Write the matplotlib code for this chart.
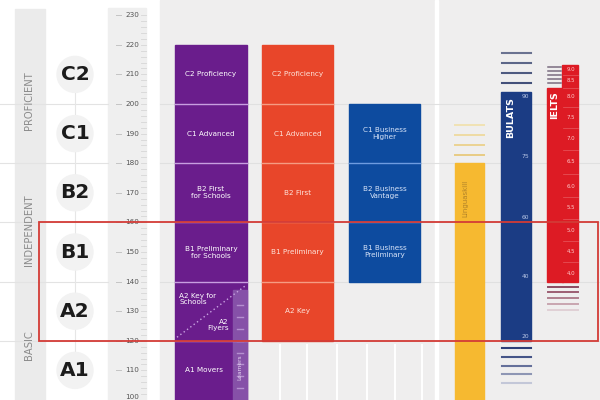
import matplotlib
matplotlib.use("Agg")
import matplotlib.pyplot as plt
from matplotlib.patches import Rectangle, Ellipse

# ---------------- data ----------------
levels = ["C2", "C1", "B2", "B1", "A2", "A1"]
level_centers = [210, 190, 170, 150, 130, 110]
level_bounds = [200, 180, 160, 140, 120]
bands = ["PROFICIENT", "INDEPENDENT", "BASIC"]
band_centers = [201.3, 157.4, 118.6]
scale_ticks = [230, 220, 210, 200, 190, 180, 170, 160, 150, 140, 130, 120, 110, 100]

purple_top = 220
purple_labels = ["C2 Proficiency", "C1 Advanced", "B2 First\nfor Schools",
                 "B1 Preliminary\nfor Schools", "A1 Movers"]
purple_label_pos = [210, 190, 170, 150, 110]
purple_a2_upper = "A2 Key for\nSchools"
purple_a2_lower = "A2\nFlyers"
learners_text = "Learners"

orange_range = (120, 220)
orange_labels = ["C2 Proficiency", "C1 Advanced", "B2 First", "B1 Preliminary", "A2 Key"]
orange_label_pos = [210, 190, 170, 150, 130]

blue_range = (140, 200)
blue_labels = ["C1 Business\nHigher", "B2 Business\nVantage", "B1 Business\nPreliminary"]
blue_label_pos = [190, 170, 150]

linguaskill_range = (100, 180)
linguaskill_lines = [192.9, 189.5, 186.1, 182.8]

bulats_range = (120, 204)
bulats_ticks = ["90", "75", "60", "40", "20"]
bulats_tick_pos = [202.4, 182.1, 161.8, 141.6, 121.3]
bulats_lines_above = [217.2, 213.9, 210.5, 207.1]
bulats_lines_below = [117.6, 114.5, 111.5, 108.8, 105.7]

ielts_range = (140, 213.2)
ielts_left_top = 205.4
ielts_ticks = ["9.0", "8.5", "8.0", "7.5", "7.0", "6.5", "6.0", "5.5", "5.0", "4.5", "4.0"]
ielts_tick_pos = [211.5, 207.8, 202.7, 195.6, 188.5, 180.7, 172.0, 165.2, 157.4, 150.3, 142.9]
ielts_lines_above = [212.5, 211.1, 209.8, 208.4, 207.1]
ielts_lines_below = [138.2, 136.5, 134.5, 132.4, 130.4]

highlight_range = (120, 160)

# ---------------- figure ----------------
PX = 2.96  # pixels per scale unit
fig = plt.figure(figsize=(6, 4), dpi=100)
ax = fig.add_axes([0, 0, 1, 1])
ax.set_xlim(0, 600)
ax.set_ylim(100, 100 + 400 / PX)
ax.axis("off")
fig.patch.set_facecolor("white")

YTOP = 100 + 400 / PX
BG = "#efeeee"

# panels
ax.add_patch(Rectangle((160, 100), 440, YTOP - 100, color=BG, zorder=0))
ax.add_patch(Rectangle((435, 100), 3, YTOP - 100, color="white", zorder=0.5))
ax.add_patch(Rectangle((15, 100), 30, 232 - 100, color="#ebebeb", zorder=0))
ax.add_patch(Rectangle((108, 100), 38, 232.5 - 100, color="#efefef", zorder=0))

# bottom white stripes
for x in [280, 307, 337, 367, 395, 422]:
    ax.plot([x, x], [100, 118.5], color="white", lw=1.4, zorder=0.6)

# grid lines
for b in level_bounds:
    ax.plot([0, 108], [b, b], color="#e3e3e3", lw=0.8, zorder=0.7)
    ax.plot([160, 600], [b, b], color="#e0e0e0", lw=0.8, zorder=0.7)

# band labels
for name, c in zip(bands, band_centers):
    ax.text(29, c, name, rotation=90, ha="center", va="center",
            fontsize=7.2, color="#8a8a8a")

# level circles and letters
ax.plot([75, 75], [110, 210], color="#e6e6e6", lw=0.8, zorder=0.8)
for lv, c in zip(levels, level_centers):
    ax.add_patch(Ellipse((75, c), 36, 36 / PX, color="#f2f2f2", zorder=0.9))
    ax.text(75, c, lv, ha="center", va="center", fontsize=14.5,
            fontweight="bold", color="#1c1c1c", zorder=1)

# ruler
for v in range(100, 232, 2):
    ax.plot([141, 146], [v, v], color="#d6d6d6", lw=0.6, zorder=1)
for v in scale_ticks:
    ax.plot([116, 121], [v, v], color="#c4c4c4", lw=0.7, zorder=1)
    ax.text(132, v, str(v), ha="center", va="bottom" if v == 100 else "center",
            fontsize=5.2, color="#555555", zorder=1)

def column(x0, x1, lo, hi, color, divcolor, bounds):
    ax.add_patch(Rectangle((x0, lo), x1 - x0, hi - lo, color=color, zorder=2))
    for b in bounds:
        if lo < b < hi:
            ax.plot([x0, x1], [b, b], color=divcolor, lw=1.0, zorder=2.2)

# purple column
PURPLE = "#6a1d8c"
column(175, 247, 100, purple_top, PURPLE, "#c89ee0", level_bounds)
ax.add_patch(Rectangle((233, 100), 14, 137 - 100, color="#8651a8", zorder=2.1))
for v in range(104, 136, 4):
    ax.plot([237, 243], [v, v], color="#b58fd0", lw=1.0, zorder=2.3)
ax.text(240, 111, learners_text, rotation=90, ha="center", va="center",
        fontsize=4.2, color="#e6d4f2", zorder=2.4)
for lab, p in zip(purple_labels, purple_label_pos):
    xc = 211 if p > 120 else 204
    ax.text(xc, p, lab, ha="center", va="center", fontsize=5.2,
            color="white", zorder=3, linespacing=1.2)
ax.plot([177, 245], [121.2, 138.5], color="#c9a3e2", lw=1.0,
        ls=(0, (1, 2)), zorder=2.5)
ax.text(179, 134.2, purple_a2_upper, ha="left", va="center", fontsize=5.2,
        color="white", zorder=3, linespacing=1.1)
ax.text(229, 125.3, purple_a2_lower, ha="right", va="center", fontsize=5.2,
        color="white", zorder=3, linespacing=1.1)

# orange column
column(262, 333, orange_range[0], orange_range[1], "#e8462a", "#f59c82", level_bounds)
for lab, p in zip(orange_labels, orange_label_pos):
    ax.text(297.5, p, lab, ha="center", va="center", fontsize=5.2,
            color="#fde3da", zorder=3, linespacing=1.2)

# blue column
column(349, 420, blue_range[0], blue_range[1], "#0d4b9f", "#6e9ce0", level_bounds)
for lab, p in zip(blue_labels, blue_label_pos):
    ax.text(384.5, p, lab, ha="center", va="center", fontsize=5.2,
            color="#d8e4f8", zorder=3, linespacing=1.2)

# Linguaskill
ax.add_patch(Rectangle((455, linguaskill_range[0]), 29,
                       linguaskill_range[1] - linguaskill_range[0],
                       color="#f6b930", zorder=2))
for v, c in zip(linguaskill_lines, ["#f1e2b4", "#eedba3", "#ebd392", "#e8cc84"]):
    ax.plot([455, 484], [v, v], color=c, lw=1.4, zorder=2)
ax.text(465, 168, "Linguaskill", rotation=90, ha="center", va="center",
        fontsize=5, color="#b0822a", zorder=3)

# BULATS
ax.add_patch(Rectangle((501, bulats_range[0]), 30,
                       bulats_range[1] - bulats_range[0],
                       color="#1b3c84", zorder=2))
ax.text(511, 195.3, "BULATS", rotation=90, ha="center", va="center",
        fontsize=6.8, fontweight="bold", color="white", zorder=3)
for t, p in zip(bulats_ticks, bulats_tick_pos):
    ax.text(525, p, t, ha="center", va="center", fontsize=4.3,
            color="#b8c6e6", zorder=3)
for v, c in zip(bulats_lines_above, ["#6a7290", "#5c6688", "#4e5a80", "#43507a"]):
    ax.plot([502, 531], [v, v], color=c, lw=1.5, zorder=2)
for v, c in zip(bulats_lines_below, ["#2e3f78", "#465588", "#65709a", "#8e96b4", "#c3c7d8"]):
    ax.plot([502, 531], [v, v], color=c, lw=1.5, zorder=2)

# IELTS
IRED = "#dd1b24"
ax.add_patch(Rectangle((562, ielts_range[0]), 16,
                       ielts_range[1] - ielts_range[0], color=IRED, zorder=2))
ax.add_patch(Rectangle((547, ielts_range[0]), 15.5,
                       ielts_left_top - ielts_range[0], color=IRED, zorder=2))
ax.text(554.5, 199.5, "IELTS", rotation=90, ha="center", va="center",
        fontsize=6.8, fontweight="bold", color="white", zorder=3)
for i, (t, p) in enumerate(zip(ielts_ticks, ielts_tick_pos)):
    ax.text(571, p, t, ha="center", va="center", fontsize=3.9,
            color="#ffc9c9", zorder=3)
    if i < len(ielts_tick_pos) - 1:
        m = (p + ielts_tick_pos[i + 1]) / 2
        ax.plot([563, 578], [m, m], color="#e85a60", lw=0.5, zorder=2.5)
for v in ielts_lines_above:
    ax.plot([548, 561], [v, v], color="#7a6c80", lw=1.1, zorder=2)
for v, c in zip(ielts_lines_below, ["#8c4a62", "#9c5e72", "#b07f8e", "#c8a6b0", "#e0d0d5"]):
    ax.plot([548, 578], [v, v], color=c, lw=1.4, zorder=2)

# highlight box
ax.add_patch(Rectangle((39, highlight_range[0]), 559,
                       highlight_range[1] - highlight_range[0],
                       fill=False, ec="#d33b36", lw=1.3, zorder=5))

fig.savefig("out.png", dpi=100)
